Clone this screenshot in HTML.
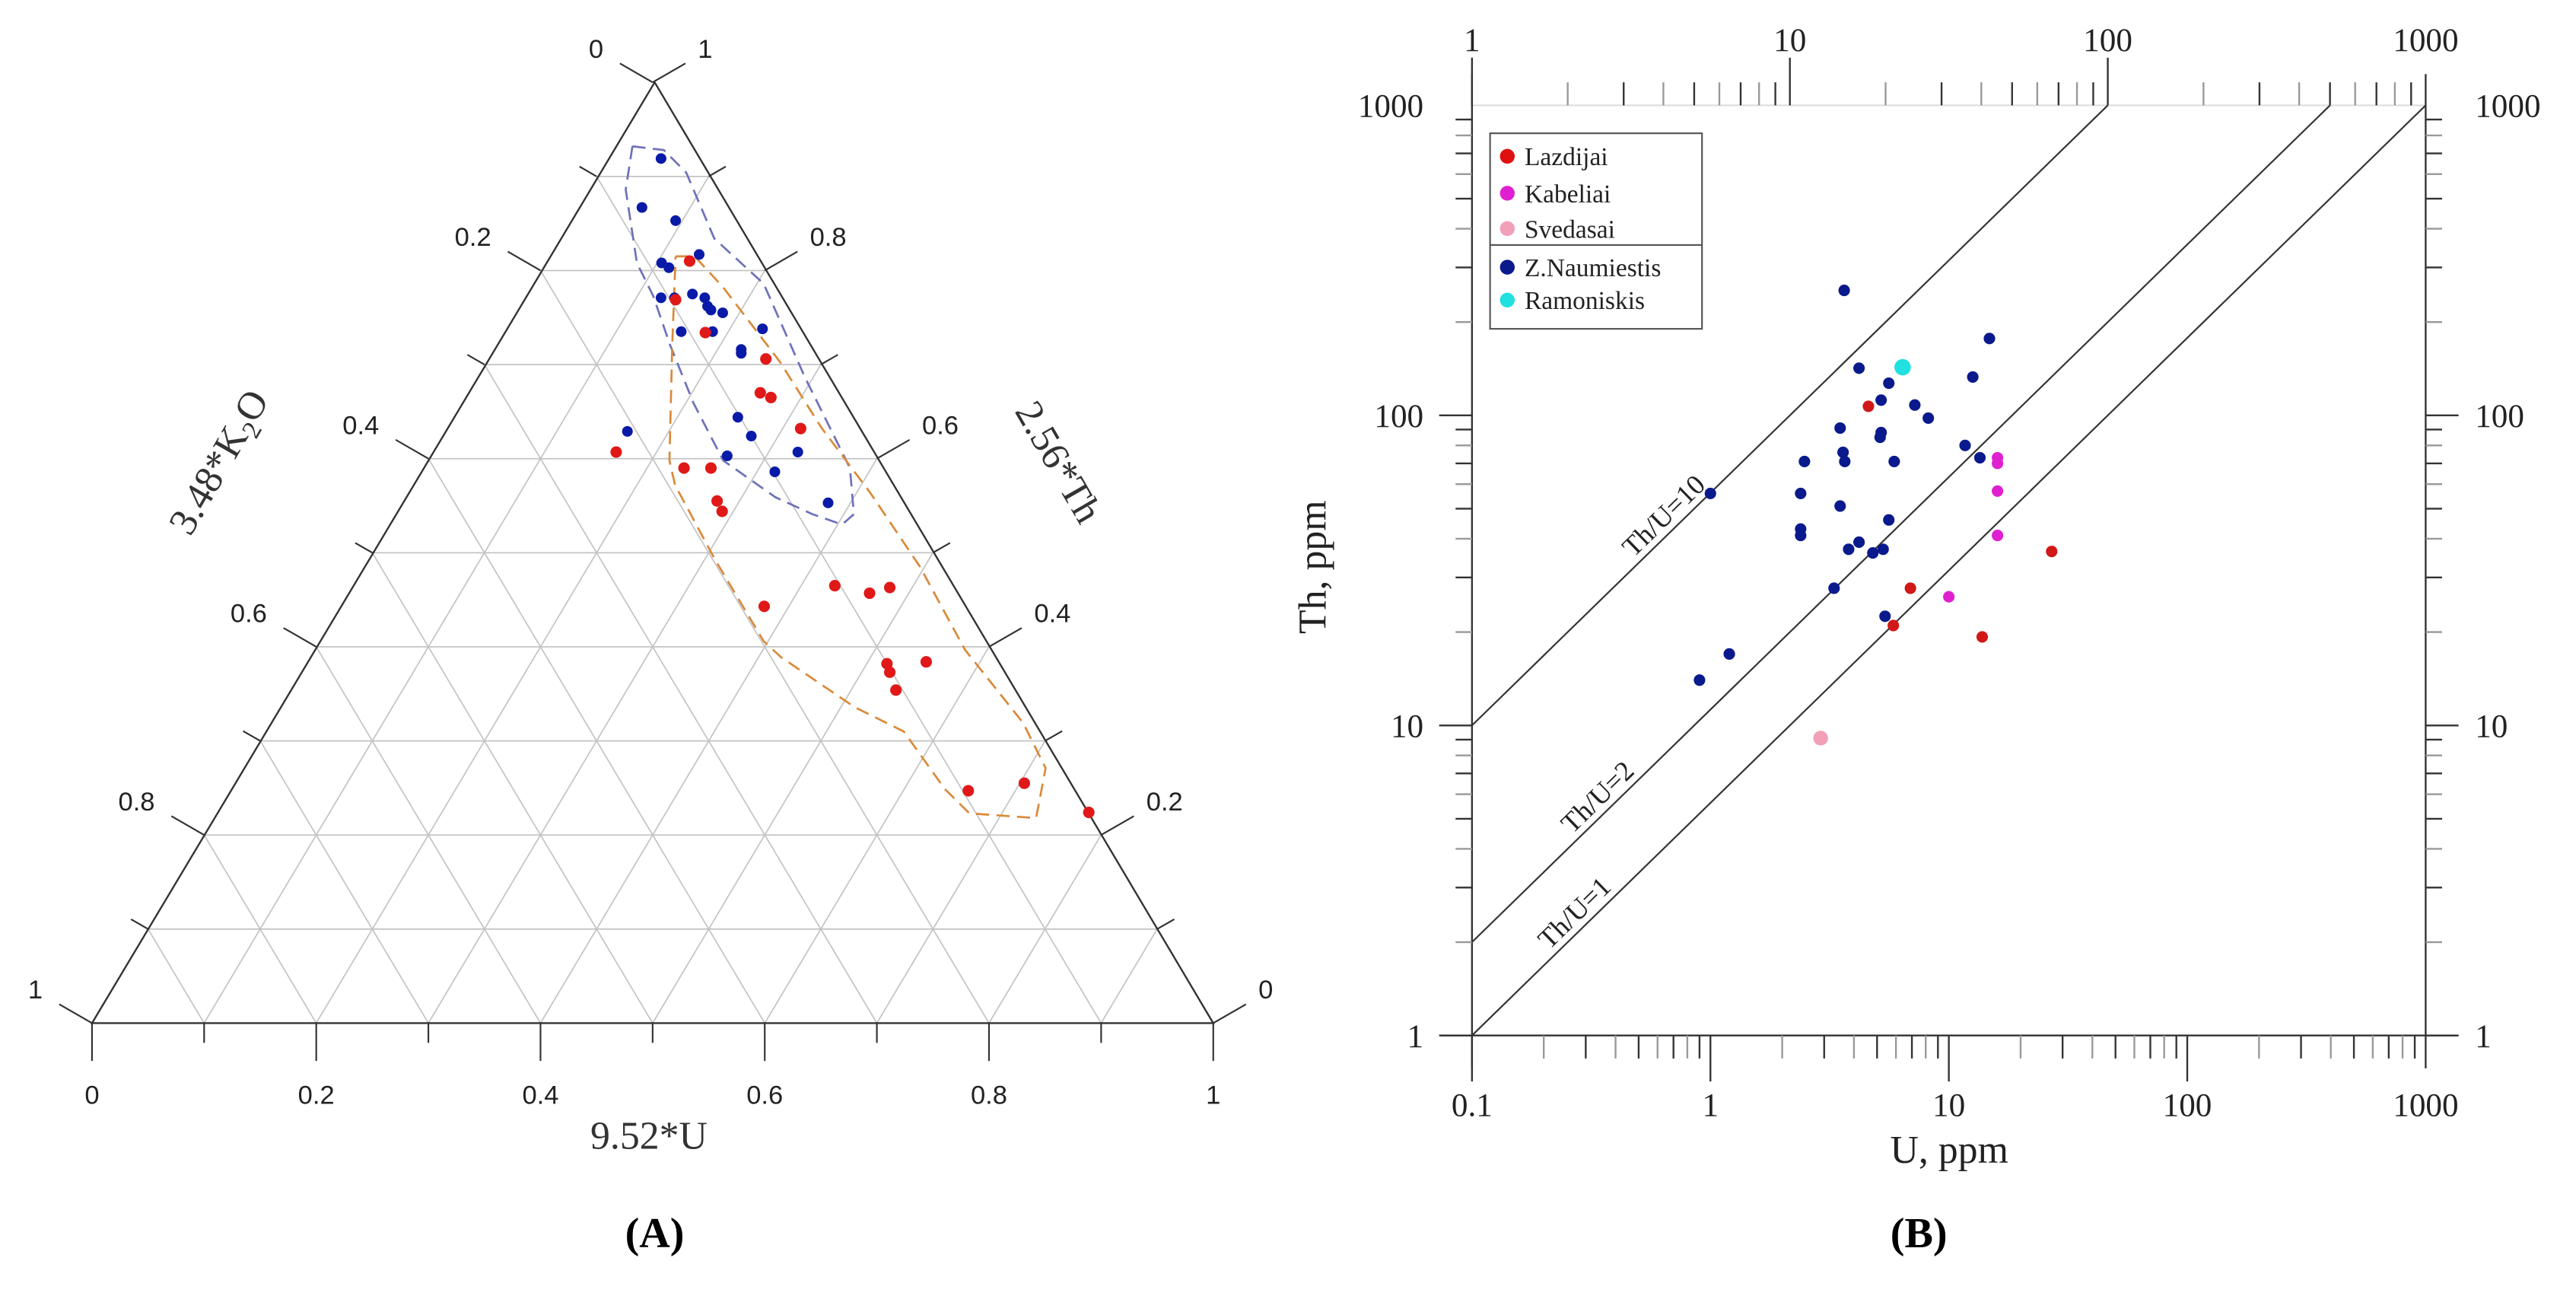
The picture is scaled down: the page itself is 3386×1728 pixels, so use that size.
<!DOCTYPE html>
<html><head><meta charset="utf-8">
<style>
html,body{margin:0;padding:0;background:#fff;}
body{width:3386px;height:1728px;position:relative;overflow:hidden;}
svg{position:absolute;top:0;}
.sans{font-family:"Liberation Sans",sans-serif;}
.serif{font-family:"Liberation Serif",serif;}
</style></head>
<body>
<svg id="left" style="left:0" width="1693" height="1728" viewBox="0 0 1568 1600"></svg>
<svg id="right" style="left:1693px" width="1693" height="1728" viewBox="0 0 1568 1600"></svg>
<script>
// ---------- Ternary data (U fraction, Th fraction) ----------
const ternBlueU = [.048,.057,.094,.104,.113,.133,.122,.134,.148,.161,.168,.173,.185,.158,.186,.229,.221,.223,.254,.276,.326,.265,.316,.380,.163];
const ternBlueTh = [.919,.867,.853,.808,.803,.817,.771,.771,.775,.771,.762,.758,.755,.735,.735,.738,.716,.712,.644,.624,.607,.603,.586,.553,.629];
const ternRedU = [.128,.136,.180,.248,.261,.273,.316,.164,.233,.257,.280,.290,.378,.430,.465,.480,.518,.525,.540,.552,.658,.704,.777];
const ternRedTh = [.810,.769,.734,.706,.670,.665,.632,.607,.590,.590,.555,.544,.443,.465,.457,.463,.382,.373,.354,.384,.247,.255,.224];
const ternTicks = ["0","0.2","0.4","0.6","0.8","1"];
// envelopes (ternary coords, U / Th)
const envBlueU = [.016,.046,.078,.138,.206,.293,.381,.409,.404,.372,.330,.264,.207,.155,.114,.082,.033,.016];
const envBlueTh = [.932,.928,.904,.834,.786,.686,.590,.541,.530,.541,.559,.598,.659,.721,.773,.808,.886,.932];
const envOrgU = [.113,.130,.172,.262,.334,.413,.496,.580,.671,.715,.733,.671,.636,.569,.512,.420,.396,.309,.234,.216,.157,.113];
const envOrgTh = [.815,.815,.782,.703,.633,.563,.485,.397,.319,.271,.218,.223,.249,.310,.336,.389,.406,.493,.572,.598,.721,.815];

const NS="http://www.w3.org/2000/svg";
function mk(parent,tag,attrs){const e=document.createElementNS(NS,tag);for(const k in attrs)e.setAttribute(k,attrs[k]);parent.appendChild(e);return e;}

// ----- Ternary -----
const L=document.getElementById('left');
const A={x:797,y:100},BL={x:112,y:1245},BR={x:1477,y:1245};
const W=BR.x-BL.x,H=BL.y-A.y;
function tp(u,th){return {x:BL.x+(u+th/2)*W,y:BL.y-th*H};}
const grid=mk(L,'g',{stroke:'#c4c4c4','stroke-width':1.6,fill:'none'});


for(let i=1;i<10;i++){const f=i/10;
  let p=tp(0,f),q=tp(1-f,f);mk(grid,'line',{x1:p.x,y1:p.y,x2:q.x,y2:q.y});
  p=tp(f,0);q=tp(f,1-f);mk(grid,'line',{x1:p.x,y1:p.y,x2:q.x,y2:q.y});
  p=tp(f,0);q=tp(0,f);mk(grid,'line',{x1:p.x,y1:p.y,x2:q.x,y2:q.y});
}
const frame=mk(L,'polygon',{points:`${A.x},${A.y} ${BL.x},${BL.y} ${BR.x},${BR.y}`,fill:'none',stroke:'#333','stroke-width':2.2});


const tk=mk(L,'g',{stroke:'#333','stroke-width':2});


for(let i=0;i<=10;i++){const f=i/10,len=(i%2==0)?46:24;
  let p=tp(f,0);mk(tk,'line',{x1:p.x,y1:p.y,x2:p.x,y2:p.y+len});
  p=tp(0,1-f);mk(tk,'line',{x1:p.x,y1:p.y,x2:p.x-len*0.866,y2:p.y-len*0.5});
  p=tp(1-f,f);mk(tk,'line',{x1:p.x,y1:p.y,x2:p.x+len*0.866,y2:p.y-len*0.5});
}
for(let i=0;i<ternTicks.length;i++){const f=i/5;
  let p=tp(f,0);let t=mk(L,'text',{x:p.x,y:p.y+98,'text-anchor':'middle','font-size':32,class:'sans',fill:'#222'});t.textContent=ternTicks[i];
  
  p=tp(0,1-f);t=mk(L,'text',{x:p.x-60,y:p.y-30,'text-anchor':'end','font-size':32,class:'sans',fill:'#222'});t.textContent=ternTicks[i];
  
  p=tp(1-f,f);t=mk(L,'text',{x:p.x+55,y:p.y-30,'text-anchor':'start','font-size':32,class:'sans',fill:'#222'});t.textContent=ternTicks[i];
  
}
function poly(us,ths,col,name){const pts=us.map((u,i)=>{const p=tp(u,ths[i]);return p.x+','+p.y;}).join(' ');
  const e=mk(L,'polyline',{points:pts,fill:'none',stroke:col,'stroke-width':2.5,'stroke-dasharray':'16 9'});
  }
poly(envBlueU,envBlueTh,'#6e72b8','blue-envelope');
poly(envOrgU,envOrgTh,'#d98a3a','orange-envelope');
ternBlueU.forEach((u,i)=>{const p=tp(u,ternBlueTh[i]);const c=mk(L,'circle',{cx:p.x,cy:p.y,r:6.5,fill:'#0a1aa8'});
  });
ternRedU.forEach((u,i)=>{const p=tp(u,ternRedTh[i]);const c=mk(L,'circle',{cx:p.x,cy:p.y,r:7,fill:'#e01818'});
  });
let t=mk(L,'text',{x:790,y:1398,'text-anchor':'middle','font-size':48,class:'serif',fill:'#333'});t.textContent='9.52*U';

t=mk(L,'text',{x:0,y:0,'text-anchor':'middle','font-size':48,class:'serif',fill:'#333',transform:'translate(280,570) rotate(-60)'});
t.innerHTML='3.48*K<tspan font-size="32" dy="10">2</tspan><tspan dy="-10">O</tspan>';

t=mk(L,'text',{x:0,y:0,'text-anchor':'middle','font-size':48,class:'serif',fill:'#333',transform:'translate(1275,570) rotate(60)'});t.textContent='2.56*Th';

t=mk(L,'text',{x:797,y:1518,'text-anchor':'middle','font-size':52,'font-weight':'bold',class:'serif',fill:'#000'});t.textContent='(A)';


// ----- Log plot data -----
const zU=[3.64,4.2,14.8,12.6,5.6,5.2,7.2,8.2,3.5,5.2,5.15,11.7,13.5,3.6,3.66,2.48,5.9,1.0,2.39,3.5,5.6,2.39,2.39,4.2,3.8,4.8,5.3,3.3,5.4,1.2,0.9];
const zTh=[253,142,177,133,127,112,108,98,91,88,85,80,73,76,71,71,71,56,56,51,46,43,41,39,37,36,37,27.7,22.5,17,14];
const lazU=[4.6,6.9,5.85,13.8,27];
const lazTh=[107,27.7,21,19.3,36.4];
const kabU=[16,16,16,16,10];
const kabTh=[73,70,57,41,26];
const sveU=[2.9];
const sveTh=[9.1];
const ramU=[6.4];
const ramTh=[143];
const ratios=[10,2,1];
const bottomTicks=["0.1","1","10","100","1000"];
const topTicks=["1","10","100","1000"];
const yTicks=["1","10","100","1000"];

const R=document.getElementById('right');
const X0=224,X1=1385,Y0=1260,Y1=128;
const xb=u=>X0+(Math.log10(u)+1)*(X1-X0)/4;
const xt=u=>X0+Math.log10(u)*(X1-X0)/3;
const yl=v=>Y0-Math.log10(v)*(Y0-Y1)/3;
mk(R,'line',{x1:X0,y1:Y1,x2:X1,y2:Y1,stroke:'#ddd','stroke-width':2});
const ax=mk(R,'g',{stroke:'#333','stroke-width':2.2});

mk(ax,'line',{x1:185,y1:Y0,x2:1425,y2:Y0});
mk(ax,'line',{x1:X0,y1:90,x2:X0,y2:1300});
mk(ax,'line',{x1:X1,y1:90,x2:X1,y2:1300});
for(let d=-1;d<3;d++)for(let m=1;m<10;m++){const v=m*Math.pow(10,d);const x=xb(v);mk(ax,'line',{x1:x,y1:Y0,x2:x,y2:Y0+(m==1?56:28),stroke:m%2?'#333':'#999'});}
for(let d=0;d<3;d++)for(let m=1;m<10;m++){const v=m*Math.pow(10,d);const x=xt(v);mk(ax,'line',{x1:x,y1:Y1,x2:x,y2:Y1-(m==1?58:28),stroke:m%2?'#333':'#999'});}
for(let d=0;d<3;d++)for(let m=1;m<10;m++){const v=m*Math.pow(10,d);const y=yl(v);
  mk(ax,'line',{x1:X0,y1:y,x2:X0-(m==1?40:20),y2:y,stroke:m%2?'#333':'#999'});
  mk(ax,'line',{x1:X1,y1:y,x2:X1+(m==1?40:20),y2:y,stroke:m%2?'#333':'#999'});}
bottomTicks.forEach(s=>{const e=mk(R,'text',{x:xb(+s),y:1358,'text-anchor':'middle','font-size':40,class:'serif',fill:'#222'});e.textContent=s;
  });
topTicks.forEach(s=>{const e=mk(R,'text',{x:xt(+s),y:62,'text-anchor':'middle','font-size':40,class:'serif',fill:'#222'});e.textContent=s;
  });
yTicks.forEach(s=>{let e=mk(R,'text',{x:165,y:yl(+s)+14,'text-anchor':'end','font-size':40,class:'serif',fill:'#222'});e.textContent=s;
  
  e=mk(R,'text',{x:1445,y:yl(+s)+14,'text-anchor':'start','font-size':40,class:'serif',fill:'#222'});e.textContent=s;
  });
const rl=mk(R,'g',{stroke:'#333','stroke-width':2,fill:'none'});

ratios.forEach(r=>{const uStart=Math.max(1,1/r), uEnd=Math.min(1000,1000/r);
  const ln=mk(rl,'line',{x1:xt(uStart),y1:yl(uStart*r),x2:xt(uEnd),y2:yl(uEnd*r)});
  });
[['Th/U=10',10,4.2],['Th/U=2',2,2.6],['Th/U=1',1,2.2]].forEach(([s,r,u])=>{const x=xt(u),y=yl(u*r)-12;
  const e=mk(R,'text',{x:x,y:y,'text-anchor':'middle','font-size':34,class:'serif',fill:'#222',transform:`rotate(-44.3 ${x} ${y})`});e.textContent=s;
  });
function pts(us,ths,col,r,name){us.forEach((u,i)=>{const c=mk(R,'circle',{cx:xb(u),cy:yl(ths[i]),r:r,fill:col});
  });}
pts(zU,zTh,'#0a1a8c',7,'z-naumiestis-point');
pts(lazU,lazTh,'#d01818',7,'lazdijai-point');
pts(kabU,kabTh,'#e020d0',7,'kabeliai-point');
pts(sveU,sveTh,'#f2a0b8',9,'svedasai-point');
pts(ramU,ramTh,'#20e0e0',10,'ramoniskis-point');
const lg=mk(R,'g',{});

mk(lg,'rect',{x:246,y:162,width:258,height:238,fill:'#fff',stroke:'#555','stroke-width':2});
mk(lg,'line',{x1:246,y1:298,x2:504,y2:298,stroke:'#555','stroke-width':2});
[['Lazdijai','#e01010',190],['Kabeliai','#e020d0',235],['Svedasai','#f2a0b8',278],['Z.Naumiestis','#0a1a8c',325],['Ramoniskis','#20e0e0',365]].forEach(([s,c,y])=>{
  const g=mk(lg,'g',{});
  
  mk(g,'circle',{cx:267,cy:y,r:9,fill:c});
  const e=mk(g,'text',{x:288,y:y+11,'font-size':31,class:'serif',fill:'#222'});e.textContent=s;});
t=mk(R,'text',{x:805,y:1415,'text-anchor':'middle','font-size':48,class:'serif',fill:'#222'});t.textContent='U, ppm';

t=mk(R,'text',{x:0,y:0,'text-anchor':'middle','font-size':48,class:'serif',fill:'#222',transform:'translate(46,690) rotate(-90)'});t.textContent='Th, ppm';

t=mk(R,'text',{x:768,y:1518,'text-anchor':'middle','font-size':52,'font-weight':'bold',class:'serif',fill:'#000'});t.textContent='(B)';

</script>
</body></html>
